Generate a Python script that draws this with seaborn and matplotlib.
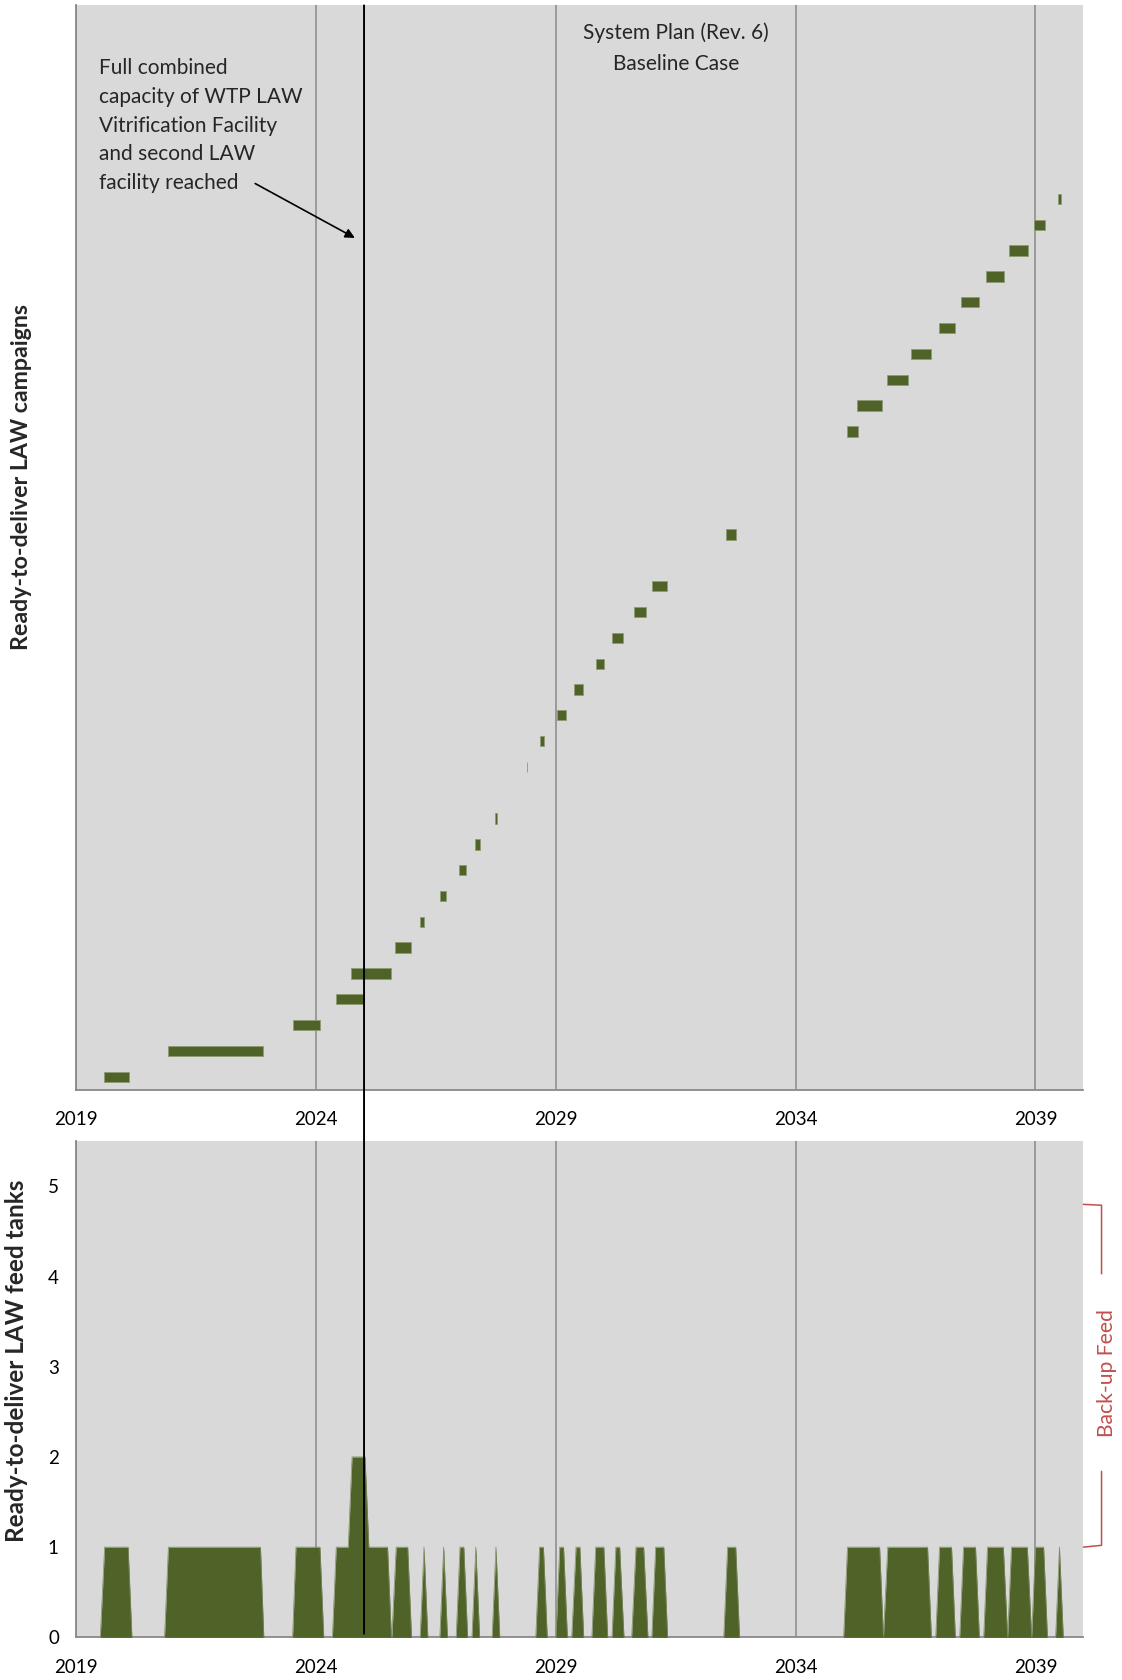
import numpy as np
import pandas as pd
import matplotlib
matplotlib.use("Agg")
import matplotlib.pyplot as plt
from matplotlib.ticker import FixedLocator, MultipleLocator
from matplotlib.patches import ConnectionPatch
import seaborn as sns


# Top chart: ready-to-deliver LAW campaigns (row, start year, end year)
campaign_row = [1, 2, 3, 4, 5, 6, 7, 8, 9, 10, 11, 13, 14, 15, 16, 17, 18, 19, 20,
                22, 26, 27, 28, 29, 30, 31, 32, 33, 34, 35]
campaign_start = [2019.58, 2020.91, 2023.51, 2024.41, 2024.72, 2025.65, 2026.16, 2026.59,
                  2026.97, 2027.32, 2027.74, 2028.39, 2028.66, 2029.03, 2029.38, 2029.83,
                  2030.18, 2030.63, 2031.01, 2032.54, 2035.08, 2035.28, 2035.91, 2036.41,
                  2036.98, 2037.45, 2037.96, 2038.44, 2038.96, 2039.46]
campaign_end = [2020.10, 2022.89, 2024.09, 2025.00, 2025.56, 2025.97, 2026.25, 2026.70,
                2027.12, 2027.41, 2027.77, 2028.40, 2028.76, 2029.21, 2029.57, 2030.01,
                2030.40, 2030.88, 2031.31, 2032.76, 2035.29, 2035.79, 2036.35, 2036.83,
                2037.33, 2037.83, 2038.34, 2038.84, 2039.20, 2039.54]

# Bottom chart: ready-to-deliver LAW feed tanks (area series breakpoints)
tank_year = [2019.00,
             2019.50, 2019.59, 2020.08, 2020.16,
             2020.84, 2020.92, 2022.84, 2022.91,
             2023.51, 2023.58, 2024.08, 2024.16,
             2024.34, 2024.42, 2024.67, 2024.75, 2025.02, 2025.10, 2025.49, 2025.57,
             2025.58, 2025.67, 2025.91, 2025.99,
             2026.17, 2026.25, 2026.33,
             2026.58, 2026.66, 2026.74,
             2026.92, 2027.00, 2027.08, 2027.16,
             2027.25, 2027.33, 2027.41,
             2027.67, 2027.75, 2027.83,
             2028.58, 2028.66, 2028.74, 2028.82,
             2029.00, 2029.08, 2029.16, 2029.24,
             2029.33, 2029.42, 2029.50, 2029.58,
             2029.75, 2029.83, 2030.00, 2030.08,
             2030.17, 2030.25, 2030.33, 2030.42,
             2030.58, 2030.67, 2030.83, 2030.92,
             2031.00, 2031.08, 2031.25, 2031.33,
             2032.50, 2032.58, 2032.75, 2032.83,
             2035.00, 2035.08, 2035.75, 2035.83,
             2035.92, 2036.75, 2036.83,
             2036.92, 2037.00, 2037.25, 2037.33,
             2037.42, 2037.50, 2037.75, 2037.83,
             2037.92, 2038.00, 2038.33, 2038.42,
             2038.50, 2038.83, 2038.92,
             2039.00, 2039.17, 2039.25,
             2039.42, 2039.50, 2039.58,
             2040.00]
tank_count = [0,
              0, 1, 1, 0,
              0, 1, 1, 0,
              0, 1, 1, 0,
              0, 1, 1, 2, 2, 1, 1, 0,
              0, 1, 1, 0,
              0, 1, 0,
              0, 1, 0,
              0, 1, 1, 0,
              0, 1, 0,
              0, 1, 0,
              0, 1, 1, 0,
              0, 1, 1, 0,
              0, 1, 1, 0,
              0, 1, 1, 0,
              0, 1, 1, 0,
              0, 1, 1, 0,
              0, 1, 1, 0,
              0, 1, 1, 0,
              0, 1, 1, 0,
              1, 1, 0,
              0, 1, 1, 0,
              0, 1, 1, 0,
              0, 1, 1, 0,
              1, 1, 0,
              1, 1, 0,
              0, 1, 0,
              0]

year_ticks = [2019, 2024, 2029, 2034, 2039]
tank_ticks = [0, 1, 2, 3, 4, 5]
full_capacity_year = 2025.0
backup_range = (1.0, 4.8)

annotation_text = ("Full combined\ncapacity of WTP LAW\nVitrification Facility\n"
                   "and second LAW\nfacility reached")
case_text = "System Plan (Rev. 6)\nBaseline Case"

green = "#4F6228"
panel = "#D9D9D9"
axis_grey = "#898989"
red = "#C0504D"

sns.set_theme(style="white")
plt.rcParams["font.family"] = ["Lato", "DejaVu Sans"]

fig = plt.figure(figsize=(11.22, 16.8), dpi=100)
ax_top = fig.add_axes([0.068, 0.3514, 0.8976, 0.6454])
ax_bot = fig.add_axes([0.068, 0.0254, 0.8976, 0.2953])

campaigns = pd.DataFrame({"row": campaign_row, "start": campaign_start, "end": campaign_end})
campaigns["length"] = campaigns["end"] - campaigns["start"]
tanks = pd.DataFrame({"year": tank_year, "count": tank_count})

# Gantt-style campaign bars
ax_top.barh(campaigns["row"] - 0.5, campaigns["length"], left=campaigns["start"],
            height=0.4, color=green, edgecolor="#8E9C74", linewidth=0.6, zorder=3)
ax_top.set_ylim(0, 42)
ax_top.set_yticks([])

# Feed tank area
ax_bot.fill_between(tanks["year"], tanks["count"], 0, color=green, linewidth=0, zorder=3)
sns.lineplot(data=tanks, x="year", y="count", ax=ax_bot, color="#7D8C62",
             linewidth=0.5, zorder=3, sort=False)
ax_bot.set_ylim(0, 5.5)
ax_bot.yaxis.set_major_locator(FixedLocator(tank_ticks))
ax_bot.set_xlabel("")
ax_bot.set_ylabel("")

for ax in (ax_top, ax_bot):
    ax.set_facecolor(panel)
    ax.set_xlim(2019, 2040)
    ax.xaxis.set_major_locator(FixedLocator(year_ticks))
    ax.xaxis.set_minor_locator(MultipleLocator(1))
    ax.set_xticklabels([str(y) for y in year_ticks])
    for side in ("top", "right"):
        ax.spines[side].set_visible(False)
    for side in ("left", "bottom"):
        ax.spines[side].set_color(axis_grey)
        ax.spines[side].set_linewidth(1.3)
    ax.grid(axis="x", which="major", color=axis_grey, linewidth=1.1, zorder=1)
    ax.set_axisbelow(True)
    ax.tick_params(axis="x", which="major", direction="inout", length=9, width=1.1,
                   color=axis_grey, labelsize=13.5, pad=11, labelcolor="black")
    ax.tick_params(axis="x", which="minor", direction="in", length=4, width=1.1,
                   color=axis_grey)
ax_bot.tick_params(axis="y", which="major", direction="inout", length=9, width=1.1,
                   color=axis_grey, labelsize=13.5, pad=8, labelcolor="black")

# axis titles
fig.text(21.4 / 1122, 1 - 477 / 1680, "Ready-to-deliver LAW campaigns", rotation=90,
         ha="center", va="center", fontsize=16.7, fontweight="bold")
fig.text(17 / 1122, 1 - 1361 / 1680, "Ready-to-deliver LAW feed tanks", rotation=90,
         ha="center", va="center", fontsize=17.5, fontweight="bold")

# annotations
ax_top.text(2019.48, 39.95, annotation_text, ha="left", va="top", fontsize=15,
            linespacing=1.54)
ax_top.annotate("", xy=(2024.86, 32.94), xytext=(2022.68, 35.15),
                arrowprops=dict(arrowstyle="-|>", color="black", lw=1.2,
                                mutation_scale=14))
ax_top.text(2031.5, 40.35, case_text, ha="center", va="center", fontsize=15,
            linespacing=1.7)

# capacity line spanning both panels
line = ConnectionPatch(xyA=(full_capacity_year, 42), coordsA=ax_top.transData,
                       xyB=(full_capacity_year, 0.04), coordsB=ax_bot.transData,
                       color="black", linewidth=1.4, zorder=10)
fig.add_artist(line)

# back-up feed bracket
tr = ax_bot.get_yaxis_transform()
lo, hi = backup_range
ax_bot.plot([1.0, 1.018, 1.018], [hi, hi - 0.01, 4.03], color=red, lw=1.1,
            transform=tr, clip_on=False)
ax_bot.plot([1.018, 1.018, 1.0], [1.84, lo + 0.02, lo], color=red, lw=1.1,
            transform=tr, clip_on=False)
ax_bot.text(1.0235, 2.93, "Back-up Feed", transform=tr, rotation=90, ha="center",
            va="center", color=red, fontsize=15.2)

fig.savefig("out.png", dpi=100)
